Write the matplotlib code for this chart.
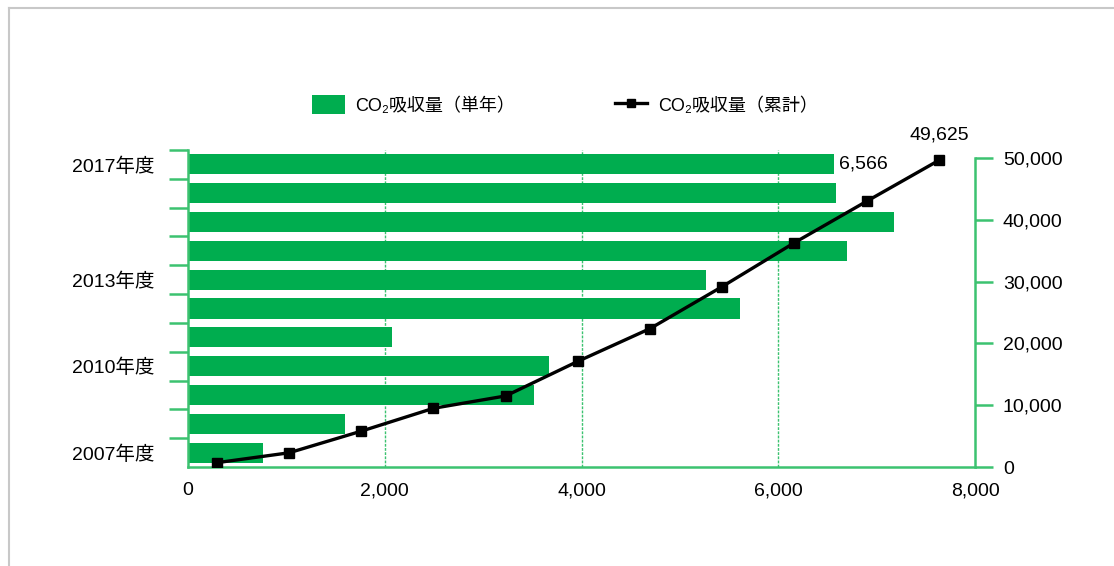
import numpy as np
import matplotlib
matplotlib.use("Agg")
import matplotlib.pyplot as plt
from matplotlib.patches import Patch
from matplotlib.lines import Line2D

plt.rcParams['font.family'] = ['Liberation Sans', 'Noto Sans CJK JP', 'DejaVu Sans']

years = ['2007', '2008', '2009', '2010', '2011', '2012', '2013', '2014', '2015', '2016', '2017']
annual = [762, 1600, 3516, 3674, 2077, 5615, 5264, 6703, 7175, 6585, 6566]
cumulative = [700, 2300, 5800, 9500, 11500, 17100, 22400, 29200, 36300, 43000, 49625]
shown_years = ['2007', '2010', '2013', '2017']
x_ticks = [0, 2000, 4000, 6000, 8000]
right_ticks = [0, 10000, 20000, 30000, 40000, 50000]

bar_green = '#00ad4f'
axis_green = '#3cc270'
fs = 14

W, H = 1114, 566
fig = plt.figure(figsize=(W / 100, H / 100), dpi=100)

# grey frame at top and left
fig.add_artist(Line2D([8.5 / W, 8.5 / W], [0, 1 - 8 / H], color='#c8c8c8', lw=1.5))
fig.add_artist(Line2D([8.5 / W, 1], [1 - 8 / H, 1 - 8 / H], color='#c8c8c8', lw=1.5))

left, right, bottom, top = 188, 975, 467, 150
pos = [left / W, 1 - bottom / H, (right - left) / W, (bottom - top) / H]
ax = fig.add_axes(pos)

idx = np.arange(len(years))
ax.barh(idx, annual, height=0.7, color=bar_green, zorder=2)
ax.set_ylim(-0.5, len(years) - 0.5)
ax.set_xlim(0, 8000)

for xv in x_ticks[1:-1]:
    ax.axvline(xv, color=axis_green, lw=1, ls=(0, (2, 1)), zorder=1)

for s in ['top', 'right']:
    ax.spines[s].set_visible(False)
for s in ['left', 'bottom']:
    ax.spines[s].set_color(axis_green)
    ax.spines[s].set_linewidth(1.8)

ax.set_xticks(x_ticks)
ax.set_xticklabels([f'{v:,}' for v in x_ticks], fontsize=fs)
ax.tick_params(axis='x', length=0, pad=11)

ax.set_yticks(idx + 0.5)
ax.set_yticklabels([])
ax.tick_params(axis='y', which='major', length=14, width=1.8, color=axis_green, direction='out')
ax.set_yticks([years.index(y) for y in shown_years], minor=True)
ax.set_yticklabels([y + '年度' for y in shown_years], minor=True, fontsize=fs)
ax.tick_params(axis='y', which='minor', length=0, pad=24)

ax.annotate(f'{annual[-1]:,}', xy=(annual[-1], idx[-1]), xytext=(4, 0),
            textcoords='offset points', ha='left', va='center', fontsize=fs)

# cumulative line on its own axes
ax2 = fig.add_axes(pos, facecolor='none')
ax2.plot(idx, cumulative, color='black', lw=2.4, marker='s', ms=7.5, zorder=3)
ax2.set_xlim(-0.4, 10.5)
ymax = 50000 * (bottom - top) / (bottom - 158)
ax2.set_ylim(0, ymax)
ax2.set_xticks([])
ax2.yaxis.tick_right()
ax2.set_yticks(right_ticks)
ax2.set_yticklabels([f'{v:,}' for v in right_ticks], fontsize=fs)
ax2.tick_params(axis='y', length=13, width=1.8, color=axis_green, pad=7)
for s in ['top', 'left', 'bottom']:
    ax2.spines[s].set_visible(False)
ax2.spines['right'].set_color(axis_green)
ax2.spines['right'].set_linewidth(1.8)
ax2.spines['right'].set_bounds(0, 50000)
ax2.annotate(f'{cumulative[-1]:,}', xy=(idx[-1], cumulative[-1]), xytext=(0, 12),
             textcoords='offset points', ha='center', va='bottom', fontsize=fs)

handles = [Patch(facecolor=bar_green, edgecolor='none'),
           Line2D([], [], color='black', lw=2.4, marker='s', ms=6)]
labels = ['CO₂吸収量（単年）', 'CO₂吸収量（累計）']
fig.legend(handles, labels, loc='center', bbox_to_anchor=(565 / W, 1 - 105 / H), ncol=2,
           frameon=False, fontsize=fs - 1, handlelength=1.8, handleheight=1.2,
           columnspacing=5.5, handletextpad=0.6)

fig.savefig('out.png', dpi=100)
